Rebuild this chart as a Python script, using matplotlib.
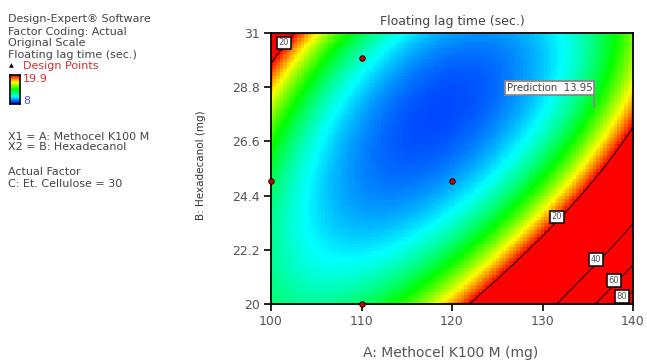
import numpy as np
import matplotlib
matplotlib.use('Agg')
import matplotlib.pyplot as plt
from matplotlib.colors import LinearSegmentedColormap

plt.rcParams['font.family'] = ['DejaVu Sans']

# ---- values: (A, B, floating lag time) ----
read_A = [121.9, 126.5, 131.6, 137.3, 140.0, 100.0, 103.0, 101.5,
          131.9, 135.9, 140.0, 136.1, 140.0, 138.5, 140.0,
          104.5, 107.4, 113.4, 118.0, 123.0, 129.7, 133.4, 136.7, 140.0,
          100.0, 100.0, 100.0, 100.0, 100.0,
          108.0, 116.0, 119.2, 140.0, 140.0,
          118.0, 114.0, 124.0, 102.3, 108.6, 120.3, 128.3, 104.1,
          132.0, 124.5, 128.0, 135.6, 135.7,
          104.1, 101.5, 109.6, 129.7, 133.3, 136.3,
          100.0, 140.0]
read_B = [20.0, 21.65, 23.5, 25.8, 27.0, 29.7, 31.0, 30.4,
          20.0, 21.8, 23.1, 20.0, 21.5, 20.0, 20.6,
          31.0, 31.0, 31.0, 31.0, 31.0, 31.0, 31.0, 31.0, 31.0,
          29.1, 27.5, 25.5, 23.0, 20.0,
          20.0, 20.0, 20.0, 29.1, 28.0,
          27.0, 25.5, 29.0, 24.3, 21.7, 23.6, 25.5, 25.5,
          25.5, 23.5, 23.5, 25.65, 28.0,
          28.5, 28.5, 28.5, 27.1, 27.1, 27.1,
          31.0, 20.0]
read_y = [20, 20, 20, 20, 20, 20, 20, 20,
          40, 40, 40, 60, 60, 80, 80,
          17, 14, 11, 10.0, 9.6, 10.2, 11, 14, 15.5,
          17, 14, 13, 12.5, 13.3,
          12.8, 14, 17, 17, 18.5,
          9.3, 9.5, 9.5, 11, 11, 11, 11, 11,
          14, 14, 17, 17, 13.95,
          14, 17, 11, 11, 14, 17,
          24, 95]

design_A = [100, 110, 110, 120]
design_B = [25, 30, 20, 25]

x_ticks = [100, 110, 120, 130, 140]
y_ticks = [20, 22.2, 24.4, 26.6, 28.8, 31]
y_tick_labels = ['20', '22.2', '24.4', '26.6', '28.8', '31']
contour_levels = [20, 40, 60, 80]
color_min, color_max = 8, 19.9
prediction_value = 13.95
prediction_at = (135.7, 28.0)
label_text = ['20', '20', '40', '60', '80']
label_A = [101.4, 131.6, 135.9, 137.9, 138.8]
label_B = [30.6, 23.54, 21.8, 20.95, 20.3]


def basis(A, B):
    a = (np.asarray(A) - 120) / 20.0
    b = (np.asarray(B) - 25.5) / 5.5
    return np.stack([np.ones_like(a), a, b, a * b, a ** 2, b ** 2,
                     a ** 2 * b, a * b ** 2, a ** 3, b ** 3], axis=-1)


obs_y = np.array(read_y, float)
w = np.sqrt(np.where(obs_y >= 20, 3.0, 1.0))
X = basis(np.array(read_A, float), np.array(read_B, float))
coef, *_ = np.linalg.lstsq(X * w[:, None], np.log(obs_y) * w, rcond=None)


def model(A, B):
    return np.exp(basis(A, B) @ coef)


cmap = LinearSegmentedColormap.from_list(
    'de', ['#0000ff', '#00ffff', '#00ff00', '#ffff00', '#ff0000'])
cmap.set_over('#ff0000')
cmap.set_under('#0000ff')

fig = plt.figure(figsize=(6.47, 3.6), dpi=100)
W, H = 647.0, 360.0
ax = fig.add_axes([271 / W, 1 - 304 / H, 362 / W, 271 / H])

Ac = np.linspace(100, 140, 105)
Bc = np.linspace(20, 31, 80)
AA, BB = np.meshgrid(Ac, Bc)
ax.pcolormesh(Ac, Bc, model(AA, BB), cmap=cmap, vmin=color_min, vmax=color_max,
              shading='nearest', rasterized=True)

Af = np.linspace(100, 140, 400)
Bf = np.linspace(20, 31, 300)
AF, BF = np.meshgrid(Af, Bf)
ax.contour(AF, BF, model(AF, BF), levels=contour_levels, colors='black',
           linewidths=0.7)
for s, xa, yb in zip(label_text, label_A, label_B):
    ax.text(xa, yb, s, fontsize=6, color='#555555', ha='center', va='center',
            zorder=6,
            bbox=dict(boxstyle='square,pad=0.2', fc='white', ec='black', lw=1.1))

ax.scatter(design_A, design_B, s=16, c='#cc0000', edgecolors='black',
           linewidths=0.6, zorder=5, clip_on=False)

ax.set_xlim(100, 140)
ax.set_ylim(20, 31)
ax.set_xticks(x_ticks)
ax.set_yticks(y_ticks)
ax.set_yticklabels(y_tick_labels)
ax.tick_params(direction='out', length=5, width=1.2, labelsize=9,
               labelcolor='#555555', pad=3)
for s in ax.spines.values():
    s.set_linewidth(1.3)

ax.set_title('Floating lag time (sec.)', fontsize=9, color='#444444', pad=6)
fig.text(451 / W, 1 - 353 / H, 'A: Methocel K100 M (mg)', fontsize=10,
         color='#555555', ha='center', va='center')
fig.text(201 / W, 1 - 165 / H, 'B: Hexadecanol (mg)', fontsize=7.5,
         color='#333333', ha='center', va='center', rotation=90)

# prediction flag
ax.text(prediction_at[0] - 0.2, 28.76, 'Prediction  ' + f'{prediction_value:.2f}',
        fontsize=7.3, color='#444444', va='center', ha='right', zorder=6,
        bbox=dict(boxstyle='square,pad=0.18', fc='white', ec='#888888', lw=1.3))
ax.plot([prediction_at[0], prediction_at[0]], [prediction_at[1], 28.5],
        color='#888888', lw=1.3, zorder=6)

# left legend panel
tc = '#444444'
fs = 8
left_lines = [(19, 'Design-Expert® Software'), (32, 'Factor Coding: Actual'),
              (43, 'Original Scale'), (55, 'Floating lag time (sec.)'),
              (137, 'X1 = A: Methocel K100 M'), (147, 'X2 = B: Hexadecanol'),
              (172, 'Actual Factor'), (184, 'C: Et. Cellulose = 30')]
for yp, s in left_lines:
    fig.text(8 / W, 1 - yp / H, s, fontsize=fs, color=tc, va='center', ha='left')
fig.text(9 / W, 1 - 66 / H, '▲', fontsize=4.5, color='black', va='center', ha='left')
fig.text(23 / W, 1 - 66 / H, 'Design Points', fontsize=fs, color='#d03030',
         va='center', ha='left')
fig.text(23 / W, 1 - 79 / H, f'{color_max}', fontsize=fs, color='#d03030',
         va='center', ha='left')
fig.text(23 / W, 1 - 101 / H, f'{color_min}', fontsize=fs, color='#5050ff',
         va='center', ha='left')
cax = fig.add_axes([10 / W, 1 - 104 / H, 10 / W, 29 / H])
cax.imshow(np.linspace(0, 1, 60)[:, None], cmap=cmap, aspect='auto', origin='lower')
cax.set_xticks([])
cax.set_yticks([])
for s in cax.spines.values():
    s.set_linewidth(1.2)

fig.savefig('out.png', dpi=100)
